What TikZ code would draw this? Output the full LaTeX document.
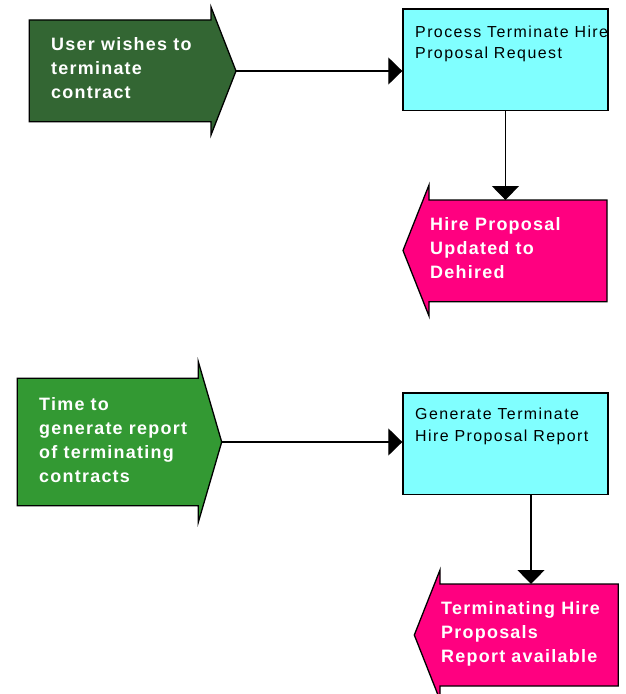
\documentclass[tikz,border=0pt]{standalone}
\usepackage{fontspec}
\setmainfont{Liberation Sans}
\newfontfamily\eventfont{Liberation Sans}[LetterSpace=7]
\newfontfamily\procfont{Liberation Sans}[LetterSpace=9]
\usetikzlibrary{arrows.meta}
\definecolor{eventdark}{RGB}{51,102,51}
\definecolor{eventgreen}{RGB}{51,153,51}
\definecolor{proccyan}{RGB}{128,255,255}
\definecolor{outpink}{RGB}{255,0,128}

\begin{document}
\begin{tikzpicture}[x=1bp,y=-1bp,
  shapeline/.style={draw=black,line width=1.3bp,line join=miter},
  procbox/.style={shapeline,fill=proccyan,rectangle,inner sep=0pt,anchor=north west},
  % text nodes are placed by the baseline of their last line
  eventtxt/.style={text=white,font=\eventfont\bfseries\fontsize{18}{24}\selectfont,align=left,anchor=base west,inner sep=0pt},
  proctxt/.style={text=black,font=\procfont\fontsize{16}{22}\selectfont,align=left,anchor=base west,inner sep=0pt},
  flow/.style={draw=black,line width=1.3bp,-{Triangle[length=14bp,width=27bp]}}]
\useasboundingbox (0,0) rectangle (626,694);

% --- first flow: user terminates a contract ---
\draw[shapeline,fill=eventdark] (29.3,20) -- (211,20) -- (211,7) -- (236,71)
  -- (211,135) -- (211,121.7) -- (29.3,121.7) -- cycle;
\coordinate (e1tip) at (236,71);
\node[eventtxt] (e1) at (51,98.5) {User wishes to\\terminate\\contract};

\node[procbox,minimum width=205bp,minimum height=101.7bp] (p1) at (402.3,8.3) {};
\node[proctxt] (p1t) at (415,59) {Process Terminate Hire\\Proposal Request};

\draw[shapeline,fill=outpink] (607,200) -- (429,200) -- (429,185) -- (403,250.5)
  -- (429,316) -- (429,301.7) -- (607,301.7) -- cycle;
\coordinate (o1top) at (518,200);
\node[eventtxt] (o1) at (430,278.5) {Hire Proposal\\Updated to\\Dehired};

\draw[flow] (e1tip) -- (e1tip -| p1.west);
\draw[flow] (p1.south) -- (p1.south |- o1top);

% --- second flow: terminating contracts report ---
\draw[shapeline,fill=eventgreen] (17.3,378.3) -- (198.3,378.3) -- (198.3,361.7)
  -- (221.7,442) -- (198.3,522.3) -- (198.3,505.7) -- (17.3,505.7) -- cycle;
\coordinate (e2tip) at (221.7,442);
\node[eventtxt] (e2) at (39,482.5) {Time to\\generate report\\of terminating\\contracts};

\node[procbox,minimum width=205bp,minimum height=101.7bp] (p2) at (402.3,392.3) {};
\node[proctxt] (p2t) at (415,441) {Generate Terminate\\Hire Proposal Report};

\draw[shapeline,fill=outpink] (618.3,584) -- (440,584) -- (440,570) -- (414.3,635)
  -- (440,700) -- (440,686) -- (618.3,686) -- cycle;
\coordinate (o2top) at (531,584);
\node[eventtxt] (o2) at (441,662.5) {Terminating Hire\\Proposals\\Report available};

\draw[flow] (e2tip) -- (e2tip -| p2.west);
\draw[flow] (o2top |- p2.south) -- (o2top);
\end{tikzpicture}
\end{document}
